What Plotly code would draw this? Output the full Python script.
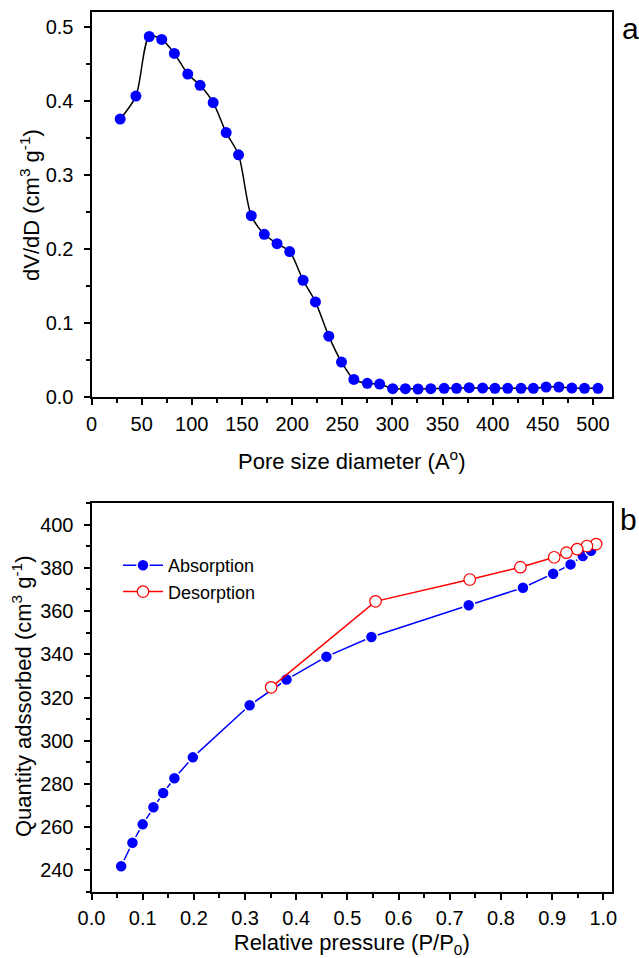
import plotly.graph_objects as go

# Pore size distribution (panel a)
pore_diameter = [28.6, 44.3, 57.6, 70, 82.6, 96, 108.3, 121.3, 134.3, 146.6, 159.3, 172.3,
                 185, 197.6, 211, 223.3, 236.6, 249.3, 261.6, 275, 287.3, 300.3, 313, 325.6,
                 338.3, 351.6, 364, 376.6, 390, 402.3, 415, 428.3, 440.6, 453.3, 466, 479,
                 491.6, 505]
dv_dd = [0.375, 0.406, 0.4865, 0.4825, 0.4636, 0.4358, 0.4205, 0.3972, 0.3567, 0.3267,
         0.2445, 0.2193, 0.2067, 0.196, 0.1573, 0.128, 0.0818, 0.0468, 0.0234, 0.018,
         0.0171, 0.0108, 0.0108, 0.0104, 0.0108, 0.0113, 0.0113, 0.0122, 0.0117, 0.0113,
         0.0113, 0.0113, 0.0113, 0.0131, 0.0131, 0.0117, 0.0113, 0.0113]

# N2 isotherm (panel b)
abs_p = [0.058, 0.080, 0.100, 0.121, 0.140, 0.162, 0.198, 0.309, 0.381, 0.459, 0.547,
         0.737, 0.843, 0.902, 0.936, 0.960, 0.976]
abs_q = [241.9, 252.8, 261.3, 269.2, 275.8, 282.6, 292.3, 316.4, 328.3, 338.9, 348.0,
         362.7, 370.8, 377.3, 381.6, 385.5, 387.9]
des_p = [0.986, 0.968, 0.949, 0.928, 0.904, 0.838, 0.739, 0.555, 0.351]
des_q = [391.0, 390.1, 388.7, 387.0, 384.9, 380.3, 374.6, 364.5, 324.7]

FONT = "Liberation Sans, Arial, sans-serif"
W, H = 639, 958

fig = go.Figure()

fig.add_trace(go.Scatter(
    x=pore_diameter, y=dv_dd, mode="lines+markers",
    line=dict(color="black", width=1.5, shape="spline", smoothing=0.8),
    marker=dict(color="#0000FF", size=11, line=dict(width=0)),
    showlegend=False, xaxis="x", yaxis="y"))

fig.add_trace(go.Scatter(
    x=abs_p, y=abs_q, mode="lines+markers", name="Absorption",
    line=dict(color="#0000FF", width=1.5),
    marker=dict(color="#0000FF", size=12, line=dict(color="white", width=1.5)),
    xaxis="x2", yaxis="y2"))

fig.add_trace(go.Scatter(
    x=des_p, y=des_q, mode="lines+markers", name="Desorption",
    line=dict(color="#FF0000", width=1.5),
    marker=dict(color="white", size=11.5, line=dict(color="#FF0000", width=1.2)),
    xaxis="x2", yaxis="y2"))

x_dom = [91.5 / W, 612 / W]
top_dom = [1 - 396.7 / H, 1 - 11.7 / H]
bot_dom = [1 - 892 / H, 1 - 503 / H]

minor_style = dict(ticks="outside", ticklen=4, tickwidth=1.5, tickcolor="black")

axis_common = dict(
    showline=True, linecolor="black", linewidth=2, mirror=True,
    ticks="outside", ticklen=6, tickwidth=1.5, tickcolor="black",
    showgrid=False, zeroline=False, automargin=False,
    tickfont=dict(family=FONT, size=20, color="black"),
    title_font=dict(family=FONT, size=22, color="black"),
)
title_font = dict(family=FONT, size=22, color="black")

fig.update_layout(
    width=W, height=H,
    margin=dict(l=0, r=0, t=0, b=0, autoexpand=False),
    paper_bgcolor="white", plot_bgcolor="white",
    font=dict(family=FONT, color="black"),
    xaxis=dict(axis_common, domain=x_dom, anchor="y", range=[0, 519],
               tickvals=list(range(0, 501, 50)),
               minor=dict(minor_style, tickvals=list(range(25, 501, 50))),
               title=dict(text="Pore size diameter (A<sup>o</sup>)", standoff=20),
               ticklabelstandoff=2),
    yaxis=dict(axis_common, domain=top_dom, anchor="x", range=[0, 0.52],
               tickvals=[0, 0.1, 0.2, 0.3, 0.4, 0.5], tickformat=".1f",
               minor=dict(minor_style, tickvals=[0.05, 0.15, 0.25, 0.35, 0.45]),
               ticklabelstandoff=6),
    xaxis2=dict(axis_common, domain=x_dom, anchor="y2", range=[0, 1.017],
                tickvals=[i / 10 for i in range(11)], tickformat=".1f",
                minor=dict(minor_style, tickvals=[0.05 + i / 10 for i in range(10)]),
                title=dict(text="Relative pressure (P/P<sub>0</sub>)", standoff=10),
                ticklabelstandoff=1),
    yaxis2=dict(axis_common, domain=bot_dom, anchor="x2", range=[230, 410],
                tickvals=list(range(240, 401, 20)),
                minor=dict(minor_style, tickvals=list(range(230, 411, 20))),
                ticklabelstandoff=6),
    legend=dict(x=118 / W, y=1 - 547 / H, xanchor="left", yanchor="top",
                bgcolor="rgba(0,0,0,0)", borderwidth=0,
                font=dict(family=FONT, size=18, color="black"),
                itemwidth=40, tracegroupgap=0),
    annotations=[
        # vertical axis titles
        dict(text="dV/dD (cm<sup>3</sup> g<sup>-1</sup>)", textangle=-90,
             x=30 / W, y=1 - 205 / H, xref="paper", yref="paper",
             xanchor="center", yanchor="middle", showarrow=False, font=title_font),
        dict(text="Quantity adssorbed (cm<sup>3</sup> g<sup>-1</sup>)", textangle=-90,
             x=22 / W, y=1 - 697 / H, xref="paper", yref="paper",
             xanchor="center", yanchor="middle", showarrow=False, font=title_font),
        # panel letters
        dict(text="a", x=630 / W, y=1 - 29 / H, xref="paper", yref="paper",
             xanchor="center", yanchor="middle",
             showarrow=False, font=dict(family=FONT, size=30, color="black")),
        dict(text="b", x=628 / W, y=1 - 519 / H, xref="paper", yref="paper",
             xanchor="center", yanchor="middle",
             showarrow=False, font=dict(family=FONT, size=30, color="black")),
    ],
)

fig.write_html("out.html")
